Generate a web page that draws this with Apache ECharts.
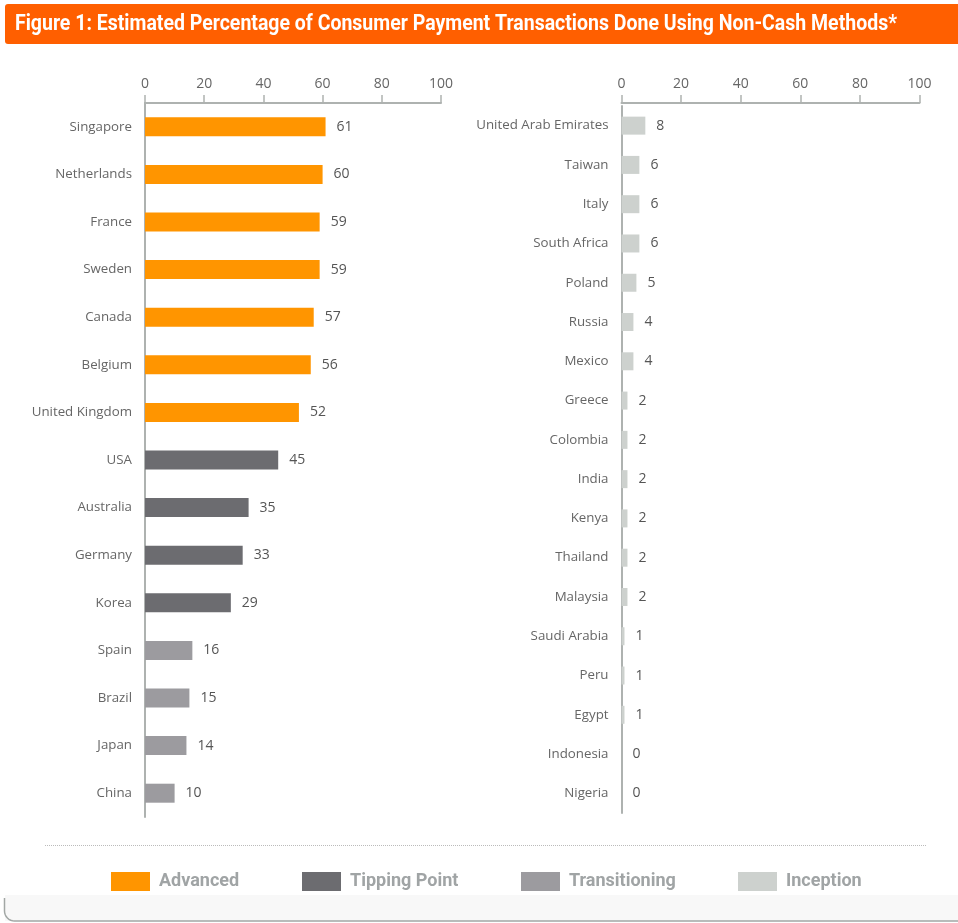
<!DOCTYPE html>
<html>
<head>
<meta charset="utf-8">
<script src="https://cdn.jsdelivr.net/npm/echarts@6/dist/echarts.min.js"></script>
<style>
html,body{margin:0;padding:0;background:#fff;}
#c{width:958px;height:923px;}
</style>
</head>
<body>
<div id="c"></div>
<script>
const titleText = 'Figure 1: Estimated Percentage of Consumer Payment Transactions Done Using Non-Cash Methods*';
const groups = ['Advanced', 'Tipping Point', 'Transitioning', 'Inception'];
const groupColors = ['#FF9500', '#6C6C70', '#9C9B9F', '#CDD1CE'];
const xTicks = [0, 20, 40, 60, 80, 100];

const leftCats = ['Singapore','Netherlands','France','Sweden','Canada','Belgium','United Kingdom','USA','Australia','Germany','Korea','Spain','Brazil','Japan','China'];
const leftVals = [61,60,59,59,57,56,52,45,35,33,29,16,15,14,10];
const leftGroup = ['Advanced','Advanced','Advanced','Advanced','Advanced','Advanced','Advanced','Tipping Point','Tipping Point','Tipping Point','Tipping Point','Transitioning','Transitioning','Transitioning','Transitioning'];

const rightCats = ['United Arab Emirates','Taiwan','Italy','South Africa','Poland','Russia','Mexico','Greece','Colombia','India','Kenya','Thailand','Malaysia','Saudi Arabia','Peru','Egypt','Indonesia','Nigeria'];
const rightVals = [8,6,6,6,5,4,4,2,2,2,2,2,2,1,1,1,0,0];
const rightGroup = rightCats.map(() => 'Inception');

const chart = echarts.init(document.getElementById('c'));
const labelFont = '"Open Sans", sans-serif';
const boldFont = 'Roboto, sans-serif';
const axisColor = '#AEB2B0';

// fit title width to the reference banner text width
const titleFont = 'bold 22px ' + boldFont;
const ctx = document.createElement('canvas').getContext('2d');
ctx.font = titleFont;
const titleScale = 882 / ctx.measureText(titleText).width;

// rounded bottom-left corner of the card border
const cornerPts = [[4.5, 898]];
for (let k = 0; k <= 8; k++) {
  const t = k / 8;
  cornerPts.push([4.5 + 10 * (1 - Math.cos(t * Math.PI / 2)), 911 + 10 * Math.sin(t * Math.PI / 2)]);
}
cornerPts.push([960, 921]);

function xAxisCfg(gridIndex, offset) {
  return {
    type: 'value', gridIndex, position: 'top', min: 0, max: 100, interval: 20, offset,
    axisLine: { show: true, lineStyle: { color: axisColor, width: 2 } },
    axisTick: { show: true, length: 8, lineStyle: { color: axisColor, width: 1.5 } },
    axisLabel: { color: '#666', fontSize: 14, fontFamily: labelFont, margin: 12,
      formatter: v => xTicks.includes(v) ? String(v) : '' },
    splitLine: { show: false }
  };
}
function yAxisCfg(gridIndex, cats) {
  return {
    type: 'category', gridIndex, data: cats, inverse: true,
    axisLine: { show: true, lineStyle: { color: axisColor, width: 2 } },
    axisTick: { show: false },
    axisLabel: { color: '#666', fontSize: 13.3, fontFamily: labelFont, margin: 13 }
  };
}
function makeSeries(name, gi, vals, grp, barWidth) {
  const ci = groups.indexOf(name);
  return {
    name, type: 'bar', xAxisIndex: gi, yAxisIndex: gi, barWidth, barGap: '-100%',
    itemStyle: { color: groupColors[ci] },
    label: { show: true, position: 'right', distance: 11, color: '#555', fontSize: 14, fontFamily: labelFont },
    data: vals.map((v, i) => grp[i] === name ? v : '-'),
    silent: true, animation: false
  };
}

const legendLefts = [111, 302, 521, 738];

chart.setOption({
  animation: false,
  grid: [
    { left: 145, width: 296, top: 103, height: 714 },
    { left: 621.5, width: 298, top: 106, height: 707 }
  ],
  xAxis: [xAxisCfg(0, 0), xAxisCfg(1, 3)],
  yAxis: [yAxisCfg(0, leftCats), yAxisCfg(1, rightCats)],
  legend: groups.map((g, i) => ({
    data: [g], left: legendLefts[i], top: 872, padding: 0,
    itemWidth: 39, itemHeight: 19, icon: 'rect', selectedMode: false,
    textStyle: { color: '#A0A4A5', fontSize: 18, fontWeight: 'bold', fontFamily: boldFont, padding: [0, 0, 0, 4] }
  })),
  series: [
    makeSeries('Advanced', 0, leftVals, leftGroup, 19),
    makeSeries('Tipping Point', 0, leftVals, leftGroup, 19),
    makeSeries('Transitioning', 0, leftVals, leftGroup, 19),
    makeSeries('Inception', 1, rightVals, rightGroup, 18)
  ],
  graphic: [
    { type: 'rect', z: -1, shape: { x: 5, y: 4, width: 960, height: 40, r: 3 }, style: { fill: '#FF5F00' } },
    { type: 'text', x: 15, y: 24, scaleX: titleScale, style: { text: titleText, fill: '#fff', font: titleFont, verticalAlign: 'middle' } },
    { type: 'line', shape: { x1: 45, y1: 845.5, x2: 927, y2: 845.5 }, style: { stroke: '#BBBBBB', lineWidth: 1, lineDash: [1, 1] } },
    { type: 'rect', z: -2, shape: { x: 5, y: 895, width: 960, height: 26 }, style: { fill: '#F8F8F8' } },
    { type: 'polyline', z: -1, shape: { points: cornerPts }, style: { fill: null, stroke: '#A2A7A5', lineWidth: 1.5 } }
  ]
});
</script>
</body>
</html>
